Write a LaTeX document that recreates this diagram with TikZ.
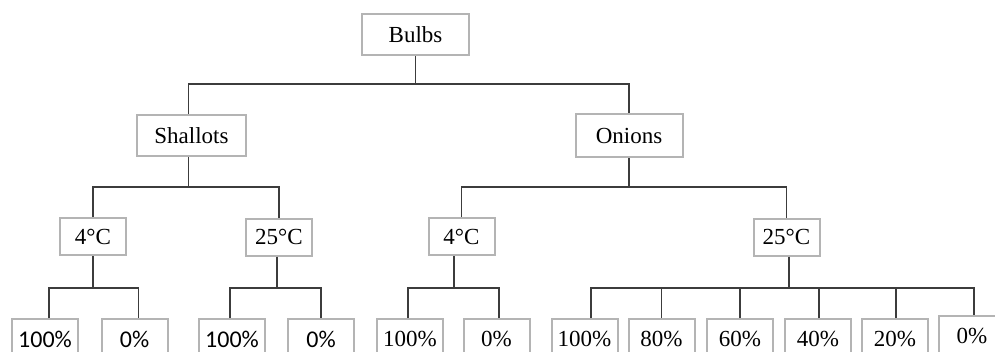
\documentclass[tikz,border=0pt]{standalone}
\usepackage{fontspec}
\setmainfont{Liberation Serif}
\newfontfamily\leafsans{Carlito}
\definecolor{boxgray}{HTML}{B4B4B4}
\definecolor{linegray}{HTML}{3C3C3C}
\begin{document}
\begin{tikzpicture}[x=1pt,y=1pt,
  box/.style={draw=boxgray, line width=2pt, fill=white, inner sep=0pt,
    font=\fontsize{23}{27}\selectfont},
  topbox/.style={box, minimum width=107pt, minimum height=41pt},
  tempbox/.style={box, minimum width=66pt, minimum height=37pt},
  leafbox/.style={box, minimum width=66pt, minimum height=40pt, anchor=north},
  sansleaf/.style={leafbox, font=\leafsans\fontsize{24}{28}\selectfont},
  conn/.style={draw=linegray, line width=1.4pt}]
\useasboundingbox (0,0) rectangle (995,-351);
\clip (0,0) rectangle (995,-351);
% bus levels
\coordinate (b1) at (0,-84);
\coordinate (b2) at (0,-187);
\coordinate (b3) at (0,-288);
% nodes
\node[topbox] (root) at (415.5,-34.5) {Bulbs};
\node[topbox, minimum width=109pt] (sh) at (191.5,-135.5) {Shallots};
\node[topbox, minimum height=43pt] (on) at (629,-135.5) {Onions};
\node[tempbox] (sh4) at (93,-236.5) {4°C};
\node[tempbox] (sh25) at (279,-237) {25°C};
\node[tempbox] (on4) at (461.5,-236.5) {4°C};
\node[tempbox] (on25) at (786.5,-237) {25°C};
\node[sansleaf] (l1) at (45,-318) {100\%};
\node[sansleaf] (l2) at (134.5,-318) {0\%};
\node[sansleaf] (l3) at (232,-318) {100\%};
\node[sansleaf] (l4) at (321,-318) {0\%};
\node[leafbox] (l5) at (410,-318) {100\%};
\node[leafbox] (l6) at (496.5,-318) {0\%};
\node[leafbox] (l7) at (584.5,-318) {100\%};
\node[leafbox] (l8) at (661.5,-318) {80\%};
\node[leafbox] (l9) at (740,-318) {60\%};
\node[leafbox] (l10) at (818,-318) {40\%};
\node[leafbox] (l11) at (895,-318) {20\%};
\node[leafbox] (l12) at (972,-315) {0\%};
% level 1
\draw[conn] (root.south) -- (root.south |- b1);
\draw[conn] ([xshift=-3pt]sh.north) |- (on.north |- b1) -- (on.north);
% level 2
\draw[conn] ([xshift=-3pt]sh.south) -- ([xshift=-3pt]sh.south |- b2);
\draw[conn] (sh4.north) |- (sh25.north |- b2) -- (sh25.north);
\draw[conn] (on.south) -- (on.south |- b2);
\draw[conn] (on4.north) |- (on25.north |- b2) -- (on25.north);
% level 3
\draw[conn] (sh4.south) -- (sh4.south |- b3);
\draw[conn] ([xshift=4pt]l1.north) |- ([xshift=4pt]l2.north |- b3) -- ([xshift=4pt]l2.north);
\draw[conn] ([xshift=-2pt]sh25.south) -- ([xshift=-2pt]sh25.south |- b3);
\draw[conn] ([xshift=-2pt]l3.north) |- (l4.north |- b3) -- (l4.north);
\draw[conn] ([xshift=-7.5pt]on4.south) -- ([xshift=-7.5pt]on4.south |- b3);
\draw[conn] ([xshift=-2pt]l5.north) |- ([xshift=2.5pt]l6.north |- b3) -- ([xshift=2.5pt]l6.north);
\draw[conn] ([xshift=2.5pt]on25.south) -- ([xshift=2.5pt]on25.south |- b3);
\draw[conn] ([xshift=6.5pt]l7.north) |- ([xshift=2pt]l12.north |- b3) -- ([xshift=2pt]l12.north);
\draw[conn] (l8.north) -- (l8.north |- b3);
\draw[conn] (l9.north) -- (l9.north |- b3);
\draw[conn] ([xshift=1pt]l10.north) -- ([xshift=1pt]l10.north |- b3);
\draw[conn] ([xshift=1pt]l11.north) -- ([xshift=1pt]l11.north |- b3);
\end{tikzpicture}
\end{document}
